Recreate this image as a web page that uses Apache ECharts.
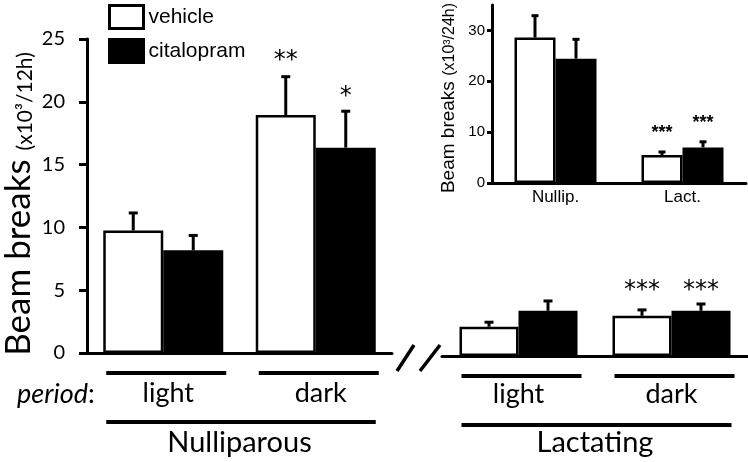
<!DOCTYPE html>
<html>
<head>
<meta charset="utf-8">
<script src="https://cdn.jsdelivr.net/npm/echarts@6/dist/echarts.min.js"></script>
<style>html,body{margin:0;padding:0;background:#fff}#c{width:748px;height:462px}</style>
</head>
<body>
<div id="c"></div>
<script>
// ---- data ----
const periods = ['light', 'dark'];
const nulliVehicle = [9.75, 18.95];
const nulliVehicleErr = [1.4, 3.05];
const nulliCital = [8.18, 16.35];
const nulliCitalErr = [1.18, 2.9];
const lactVehicle = [2.33, 3.2];
const lactVehicleErr = [0.36, 0.47];
const lactCital = [3.6, 3.6];
const lactCitalErr = [0.78, 0.54];
const nulliVehicleStars = ['', '**'];
const nulliCitalStars = ['', '*'];
const lactVehicleStars = ['', '***'];
const lactCitalStars = ['', '***'];
const mainTicks = [0, 5, 10, 15, 20, 25];

const insetCats = ['Nullip.', 'Lact.'];
const insetVehicle = [28.6, 5.5];
const insetVehicleErr = [4.3, 0.6];
const insetCital = [24.45, 7.0];
const insetCitalErr = [3.8, 1.1];
const insetVehicleStars = ['', '***'];
const insetCitalStars = ['', '***'];
const insetTicks = [0, 10, 20, 30];

// ---- style ----
const CAL = 'Lato, "Open Sans", sans-serif';
const ARI = '"Liberation Sans", Arial, sans-serif';
const STAR = '"DejaVu Sans", sans-serif';
const BW = 60, BW2 = 59, BW3 = 41;

const chart = echarts.init(document.getElementById('c'), null, {renderer: 'canvas'});

function errRender(vals, errs, stars, sign, bw, lw, capW, font, gap) {
  return function (params, api) {
    const i = params.dataIndex;
    const base = api.coord([i, vals[i]]);
    const top = api.coord([i, vals[i] + errs[i]]);
    const x = base[0] + sign * bw / 2;
    const ch = [
      {type: 'line', shape: {x1: x, y1: base[1], x2: x, y2: top[1]}, style: {stroke: '#000', lineWidth: lw}},
      {type: 'line', shape: {x1: x - capW / 2, y1: top[1], x2: x + capW / 2, y2: top[1]}, style: {stroke: '#000', lineWidth: lw}}
    ];
    if (stars[i]) {
      ch.push({type: 'text', style: {text: stars[i], x: x, y: top[1] - gap, align: 'center', verticalAlign: 'bottom', font: font, fill: '#000'}});
    }
    return {type: 'group', children: ch};
  };
}
function idx(arr) { return arr.map((v, i) => [i, v]); }

const vehStyle = {color: '#fff', borderColor: '#000', borderWidth: 2.5};
const citStyle = {color: '#000', borderColor: '#000', borderWidth: 2.5};

const option = {
  animation: false,
  legend: {
    orient: 'vertical', left: 103, top: -1, itemWidth: 34, itemHeight: 23, itemGap: 8, itemTextGap: 13,
    textStyle: {fontFamily: ARI, fontSize: 21, color: '#000'},
    data: [
      {name: 'vehicle', icon: 'rect', itemStyle: {color: '#fff', borderColor: '#000', borderWidth: 3}},
      {name: 'citalopram', icon: 'rect', itemStyle: {color: '#000', borderColor: '#000', borderWidth: 3}}
    ],
    selectedMode: false
  },
  grid: [
    {left: 80, top: 39, width: 312, height: 318},
    {left: 442, top: 42, width: 306, height: 318},
    {left: 492, top: 5, width: 254, height: 178}
  ],
  xAxis: [
    {type: 'category', gridIndex: 0, data: periods, z: 4,
      axisLine: {lineStyle: {color: '#000', width: 3}}, axisTick: {show: false},
      axisLabel: {fontFamily: CAL, fontSize: 27, color: '#000', margin: 27, padding: [0, 0, 0, 10]},
      name: 'Nulliparous', nameLocation: 'middle', nameGap: 75,
      nameTextStyle: {fontFamily: CAL, fontSize: 29, color: '#000'}},
    {type: 'category', gridIndex: 1, data: periods, z: 4,
      axisLine: {lineStyle: {color: '#000', width: 3}}, axisTick: {show: false},
      axisLabel: {fontFamily: CAL, fontSize: 27, color: '#000', margin: 25},
      name: 'Lactating', nameLocation: 'middle', nameGap: 72,
      nameTextStyle: {fontFamily: CAL, fontSize: 29, color: '#000'}},
    {type: 'category', gridIndex: 2, data: insetCats, z: 4,
      axisLine: {lineStyle: {color: '#000', width: 3}}, axisTick: {show: false},
      axisLabel: {fontFamily: ARI, fontSize: 17, color: '#000', margin: 6}}
  ],
  yAxis: [
    {type: 'value', gridIndex: 0, min: 0, max: 25, interval: 5,
      axisLine: {show: true, lineStyle: {color: '#000', width: 3}},
      axisTick: {show: true, length: 8, lineStyle: {color: '#000', width: 3}, customValues: mainTicks},
      axisLabel: {fontFamily: CAL, fontSize: 20, color: '#000', margin: 22, customValues: mainTicks},
      splitLine: {show: false},
      name: '{a|Beam breaks }{b|(x10³/12h)}', nameLocation: 'middle', nameRotate: 90, nameGap: 51,
      nameTextStyle: {padding: [0, 16, 0, 0], rich: {
        a: {fontFamily: CAL, fontSize: 35, color: '#000', verticalAlign: 'bottom'},
        b: {fontFamily: CAL, fontSize: 21, color: '#000', verticalAlign: 'bottom'}}}},
    {type: 'value', gridIndex: 1, min: 0, max: 25, show: false, splitLine: {show: false}},
    {type: 'value', gridIndex: 2, min: 0, max: 35,
      axisLine: {show: true, lineStyle: {color: '#000', width: 3}},
      axisTick: {show: true, length: 5, lineStyle: {color: '#000', width: 3}, customValues: insetTicks},
      axisLabel: {fontFamily: ARI, fontSize: 15, color: '#000', margin: 7, customValues: insetTicks},
      splitLine: {show: false},
      name: '{a|Beam breaks }{b|(x10³/24h)}', nameLocation: 'middle', nameRotate: 90, nameGap: 34,
      nameTextStyle: {padding: [0, 8, 0, 0], rich: {
        a: {fontFamily: ARI, fontSize: 19, color: '#000', verticalAlign: 'bottom'},
        b: {fontFamily: ARI, fontSize: 16, color: '#000', verticalAlign: 'bottom'}}}}
  ],
  series: [
    {name: 'vehicle', type: 'bar', xAxisIndex: 0, yAxisIndex: 0, data: nulliVehicle, barWidth: BW, barGap: '0%', itemStyle: vehStyle},
    {name: 'citalopram', type: 'bar', xAxisIndex: 0, yAxisIndex: 0, data: nulliCital, barWidth: BW, barGap: '0%', itemStyle: citStyle},
    {type: 'custom', xAxisIndex: 0, yAxisIndex: 0, data: idx(nulliVehicle), z: 5,
      renderItem: errRender(nulliVehicle, nulliVehicleErr, nulliVehicleStars, -1, BW, 3, 9, '24px ' + STAR, 4)},
    {type: 'custom', xAxisIndex: 0, yAxisIndex: 0, data: idx(nulliCital), z: 5,
      renderItem: errRender(nulliCital, nulliCitalErr, nulliCitalStars, 1, BW, 3, 9, '24px ' + STAR, 2)},

    {name: 'vehicle', type: 'bar', xAxisIndex: 1, yAxisIndex: 1, data: lactVehicle, barWidth: BW2, barGap: '0%', itemStyle: vehStyle},
    {name: 'citalopram', type: 'bar', xAxisIndex: 1, yAxisIndex: 1, data: lactCital, barWidth: BW2, barGap: '0%', itemStyle: citStyle},
    {type: 'custom', xAxisIndex: 1, yAxisIndex: 1, data: idx(lactVehicle), z: 5,
      renderItem: errRender(lactVehicle, lactVehicleErr, lactVehicleStars, -1, BW2, 3, 9, '24px ' + STAR, 7)},
    {type: 'custom', xAxisIndex: 1, yAxisIndex: 1, data: idx(lactCital), z: 5,
      renderItem: errRender(lactCital, lactCitalErr, lactCitalStars, 1, BW2, 3, 9, '24px ' + STAR, 1)},

    {name: 'vehicle', type: 'bar', xAxisIndex: 2, yAxisIndex: 2, data: insetVehicle, barWidth: BW3, barGap: '0%', itemStyle: vehStyle},
    {name: 'citalopram', type: 'bar', xAxisIndex: 2, yAxisIndex: 2, data: insetCital, barWidth: BW3, barGap: '0%', itemStyle: citStyle},
    {type: 'custom', xAxisIndex: 2, yAxisIndex: 2, data: idx(insetVehicle), z: 5,
      renderItem: errRender(insetVehicle, insetVehicleErr, insetVehicleStars, -1, BW3, 3, 7, 'bold 18px ' + ARI, 10)},
    {type: 'custom', xAxisIndex: 2, yAxisIndex: 2, data: idx(insetCital), z: 5,
      renderItem: errRender(insetCital, insetCitalErr, insetCitalStars, 1, BW3, 3, 7, 'bold 18px ' + ARI, 10)}
  ]
};
chart.setOption(option);

// decorations computed from axis positions
const g = [];
function lineEl(x1, y1, x2, y2, w) {
  return {type: 'line', shape: {x1, y1, x2, y2}, style: {stroke: '#000', lineWidth: w}, silent: true};
}
[[0, 0], [1, 1]].forEach(([xi, yi]) => {
  const y0 = chart.convertToPixel({yAxisIndex: yi}, 0);
  const c0 = chart.convertToPixel({xAxisIndex: xi}, periods[0]);
  const c1 = chart.convertToPixel({xAxisIndex: xi}, periods[1]);
  [c0, c1].forEach(c => g.push(lineEl(c + 3 - 60, y0 + 20, c + 3 + 60, y0 + 20, 4)));
  g.push(lineEl(c0 - 57, y0 + 69, c1 + 60, y0 + 69, 4));
});
// axis break marks
g.push(lineEl(397, 371, 414, 345, 3.5));
g.push(lineEl(420, 371, 440, 345, 3.5));
// period label
g.push({type: 'text', left: 17, top: 381, style: {
  text: '{i|period}{n|:}',
  rich: {i: {fontFamily: CAL, fontStyle: 'italic', fontSize: 27, fill: '#000'},
         n: {fontFamily: CAL, fontSize: 27, fill: '#000'}}}});
chart.setOption({graphic: g});
</script>
</body>
</html>
